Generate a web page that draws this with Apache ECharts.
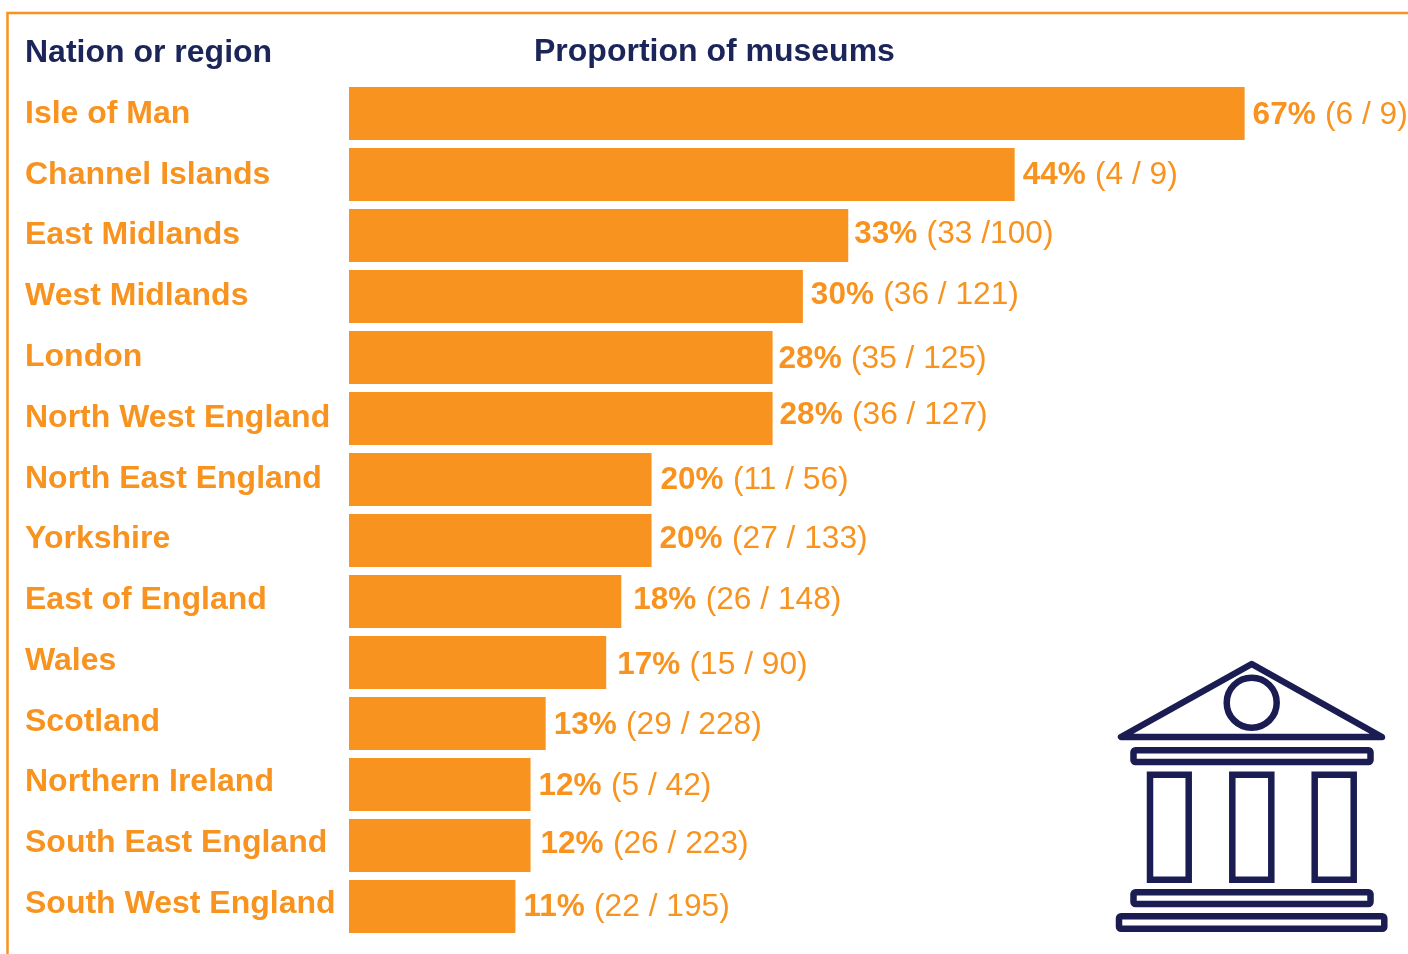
<!DOCTYPE html>
<html>
<head>
<meta charset="utf-8">
<title>Proportion of museums</title>
<script src="https://cdn.jsdelivr.net/npm/echarts@6/dist/echarts.min.js"></script>
<style>
  html, body { margin: 0; padding: 0; background: #fff; }
  #Bar { width: 1408px; height: 954px; }
</style>
</head>
<body>
<div id="Bar"></div>
<script>
// data
const regions = ["Isle of Man", "Channel Islands", "East Midlands", "West Midlands", "London",
  "North West England", "North East England", "Yorkshire", "East of England", "Wales",
  "Scotland", "Northern Ireland", "South East England", "South West England"];
// drawn length of each bar (Isle of Man is drawn shorter than its 67% label)
const barLengths = [59.2, 44, 33, 30, 28, 28, 20, 20, 18, 17, 13, 12, 12, 11];
const percentLabels = ["67%", "44%", "33%", "30%", "28%", "28%", "20%", "20%", "18%", "17%", "13%", "12%", "12%", "11%"];
const countLabels = ["(6 / 9)", "(4 / 9)", "(33 /100)", "(36 / 121)", "(35 / 125)", "(36 / 127)", "(11 / 56)",
  "(27 / 133)", "(26 / 148)", "(15 / 90)", "(29 / 228)", "(5 / 42)", "(26 / 223)", "(22 / 195)"];

// the value labels are not quite lined up in the original
const labelNudgeX = [0, 0, -2, 0, -2, -1, 1, 0, 4, 3, 0, 0, 2, 0];
const labelNudgeY = [2, 1, -1, -1, 2, -3, 1, -1, -1, 3, 2, 2, -1, 1];

const orange = "#F7931E";
const navy = "#1B2559";
const iconNavy = "#1B1C52";
const font = "Liberation Sans";

var barChart = echarts.init(document.getElementById("Bar"), null, { renderer: "canvas" });

function iconRect(x, y, width, height, r) {
  return {
    type: "rect",
    shape: { x: x, y: y, width: width, height: height, r: r },
    style: { fill: "none", stroke: iconNavy, lineWidth: 6.5 }
  };
}

barChart.setOption({
  animation: false,
  backgroundColor: "#fff",
  title: [
    { text: "Nation or region", left: 25, top: 37, padding: 0, textStyle: { fontFamily: font, fontSize: 32, fontWeight: "bold", color: navy } },
    { text: "Proportion of museums", left: 534, top: 36, padding: 0, textStyle: { fontFamily: font, fontSize: 32, fontWeight: "bold", color: navy } }
  ],
  // bars and row names have slightly different row pitch in the original
  grid: [
    { left: 349, top: 83, width: 1059, height: 854 },
    { left: 349, top: 83.6, width: 1059, height: 851 }
  ],
  xAxis: [
    { type: "value", gridIndex: 0, min: 0, max: 70, show: false },
    { type: "value", gridIndex: 1, min: 0, max: 70, show: false }
  ],
  yAxis: [
    { type: "category", gridIndex: 0, inverse: true, data: regions, show: false },
    {
      type: "category", gridIndex: 1, inverse: true, data: regions,
      axisLine: { show: false }, axisTick: { show: false },
      axisLabel: {
        interval: 0, align: "left", margin: 324,
        fontFamily: font, fontSize: 32, fontWeight: "bold", color: orange
      }
    }
  ],
  series: [
    {
      type: "bar",
      xAxisIndex: 0,
      yAxisIndex: 0,
      data: barLengths.map((v, i) => ({
        value: v,
        label: { offset: [labelNudgeX[i], labelNudgeY[i]] }
      })),
      barWidth: 53,
      itemStyle: { color: orange },
      label: {
        show: true,
        position: "right",
        distance: 8,
        formatter: p => `{b|${percentLabels[p.dataIndex]}} {n|${countLabels[p.dataIndex]}}`,
        rich: {
          b: { fontFamily: font, fontSize: 31.5, fontWeight: "bold", color: orange },
          n: { fontFamily: font, fontSize: 31.7, color: orange, padding: [0, 0, 0, 6] }
        }
      }
    }
  ],
  graphic: [
    // frame, open on the right and bottom
    {
      type: "polyline",
      shape: { points: [[7.5, 954], [7.5, 13], [1408, 13]] },
      style: { fill: "none", stroke: orange, lineWidth: 2.5 }
    },
    // museum icon
    {
      type: "polygon",
      shape: { points: [[1251.7, 664], [1121, 737], [1382, 737]] },
      style: { fill: "none", stroke: iconNavy, lineWidth: 6.5, lineJoin: "round" }
    },
    {
      type: "circle",
      shape: { cx: 1251.7, cy: 702.7, r: 25 },
      style: { fill: "none", stroke: iconNavy, lineWidth: 6.5 }
    },
    iconRect(1133.5, 750.3, 237, 11.7, 2),
    iconRect(1150, 774.7, 38.7, 105, 0),
    iconRect(1232.3, 774.7, 39, 105, 0),
    iconRect(1314.7, 774.7, 39, 105, 0),
    iconRect(1133.5, 892.3, 237, 11.7, 2),
    iconRect(1119, 916.3, 265.3, 12.4, 2)
  ]
});
</script>
</body>
</html>
